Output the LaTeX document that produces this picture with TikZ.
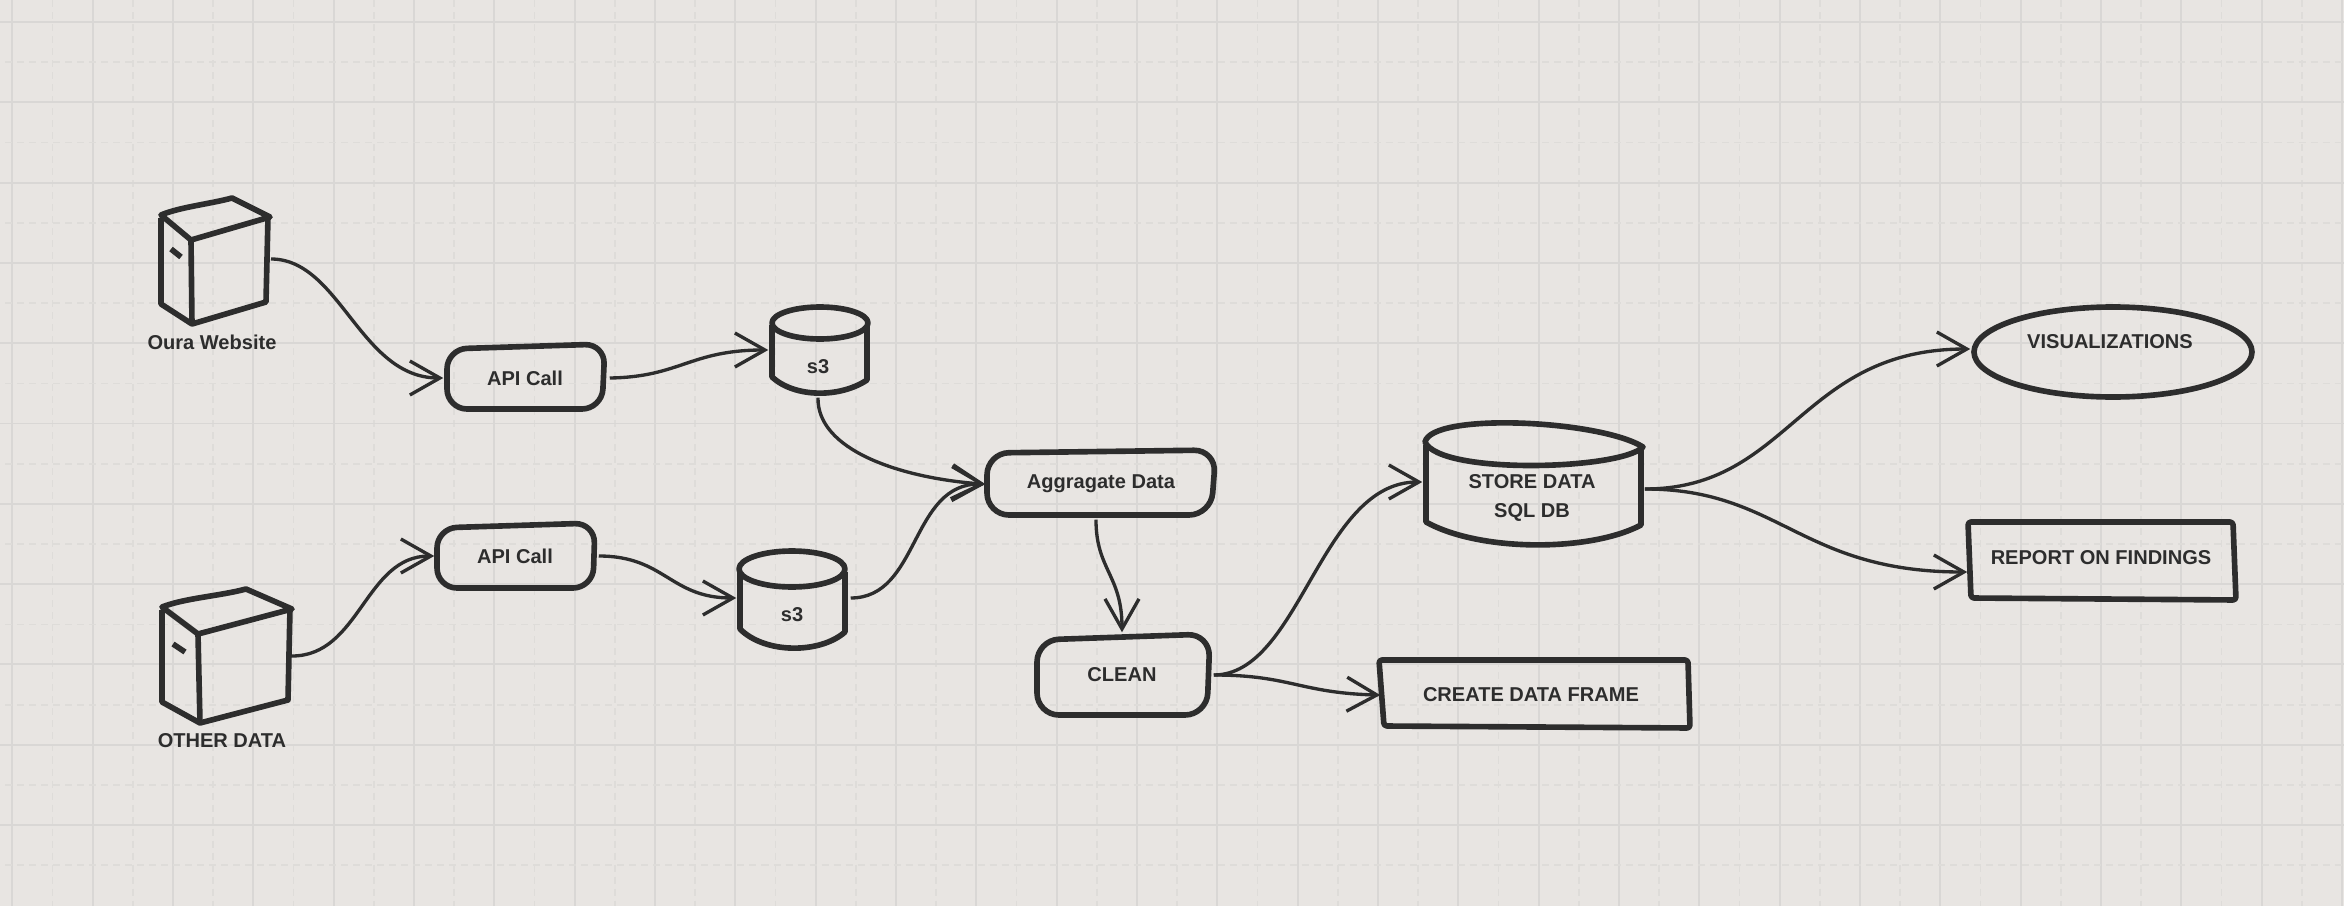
\documentclass[tikz,border=0pt]{standalone}
\usepackage{fontspec}
\setmainfont{Liberation Sans}
\usepackage{xcolor}
\usetikzlibrary{arrows.meta}
\definecolor{paper}{HTML}{E8E5E2}
\definecolor{gridline}{HTML}{D9D7D5}
\definecolor{griddot}{HTML}{DEDCD9}
\definecolor{ink}{HTML}{2D2D2D}
\tikzset{
    outline/.style={draw=ink, line width=1.6pt, line join=round},
    flow/.style={draw=ink, line width=0.95pt, shorten >=-.03cm, -{Straight Barb[length=.30cm, width=.34cm]}},
    nametext/.style={font=\fontsize{5.7}{8.5}\selectfont\bfseries, text=ink, inner sep=0pt, align=center},
    gridsolid/.style={draw=gridline, line width=0.55pt},
    griddash/.style={draw=griddot, line width=0.5pt, dash pattern=on .07cm off .05cm}
}

\begin{document}
\begin{tikzpicture}[x=0.01cm, y=-0.01cm]
        \useasboundingbox (0,0) rectangle (2344,906);
        \fill[paper] (0,0) rectangle (2344,906);

        % Grid
        \foreach \k in {0,...,29} {
            \draw[griddash] (52.5+80.33*\k, 0) -- (52.5+80.33*\k, 906);
            \draw[gridsolid] (12.3+80.33*\k, 0) -- (12.3+80.33*\k, 906);
        }
        \foreach \k in {0,...,10} {
            \draw[griddash] (5, 62.3+80.3*\k) -- (2344, 62.3+80.3*\k);
            \draw[gridsolid] (0, 22+80.3*\k) -- (2344, 22+80.3*\k);
        }

        % Oura server
        \draw[outline] (161,215) .. controls (180,207) and (210,204) .. (232,198) -- (270,217) -- (191,240) -- cycle;
        \draw[outline] (161,218) -- (161,304) -- (192,324) -- (266,302) -- (268,217);
        \draw[outline] (191,240) -- (192,324);
        \draw[outline] (171,249) -- (181,257);
        \node[nametext] (webA) at (212,342) {Oura Website};
        \coordinate (webAout) at (271,259);

        % Other server
        \draw[outline] (162,607) .. controls (185,598) and (220,596) .. (246,589) -- (292,609) -- (198,634) -- cycle;
        \draw[outline] (162,610) -- (162,702) -- (200,723) -- (288,700) -- (290,609);
        \draw[outline] (198,634) -- (200,723);
        \draw[outline] (173,644) -- (185,652);
        \node[nametext] (webB) at (222,741) {OTHER DATA};
        \coordinate (webBout) at (292,656);

        % API boxes
        \draw[outline, rounded corners=.2cm] (447,349) -- (605,344) -- (602,409) -- (447,409) -- cycle;
        \node[nametext, minimum width=1.68cm, minimum height=.6cm] (apiA) at (525,378) {API Call};
        \draw[outline, rounded corners=.2cm] (437,528) -- (595,523) -- (593,588) -- (437,588) -- cycle;
        \node[nametext, minimum width=1.66cm, minimum height=.6cm] (apiB) at (515,556) {API Call};

        % s3 buckets
        \draw[outline] (820,323) ellipse [x radius=48, y radius=16];
        \draw[outline] (772,325) -- (772,377) .. controls (795,398) and (840,398) .. (867,380) -- (867,325);
        \node[nametext, minimum width=1.04cm, minimum height=.6cm] (bucketA) at (818,367) {s3};
        \draw[outline] (792,569) ellipse [x radius=53, y radius=18];
        \draw[outline] (740,572) -- (740,629) .. controls (765,654) and (820,654) .. (845,632) -- (845,572);
        \node[nametext, minimum width=1.16cm, minimum height=.6cm] (bucketB) at (792,615) {s3};

        % Aggregate and clean
        \draw[outline, rounded corners=.22cm] (987,453) -- (1216,450) -- (1211,515) -- (987,515) -- cycle;
        \node[nametext, minimum width=2.36cm, minimum height=.7cm] (aggregate) at (1101,484) {Aggragate Data};
        \draw[outline, rounded corners=.22cm] (1037,640) -- (1210,634) -- (1207,715) -- (1037,715) -- cycle;
        \node[nametext, minimum width=1.82cm, minimum height=.9cm] (clean) at (1122,675) {CLEAN};

        % Store
        \draw[outline] (1425,442) .. controls (1432,412) and (1600,420) .. (1643,447) .. controls (1620,470) and (1440,475) .. (1425,442) -- cycle;
        \draw[outline] (1426,445) -- (1426,522) .. controls (1480,552) and (1590,552) .. (1641,525) -- (1641,447);
        \node[nametext, minimum width=2.24cm] (store) at (1532,498) {STORE DATA\\SQL DB};

        % Outputs
        \draw[outline, rounded corners=.03cm] (1379,660) -- (1688,660) -- (1690,728) -- (1384,726) -- cycle;
        \node[nametext, minimum width=3.06cm] (frame) at (1531,695) {CREATE DATA FRAME};
        \draw[outline] (2113,352) ellipse [x radius=139, y radius=45];
        \node[nametext, minimum width=2.84cm] (visual) at (2110,342) {VISUALIZATIONS};
        \draw[outline, rounded corners=.03cm] (1968,522) -- (2233,522) -- (2236,600) -- (1971,598) -- cycle;
        \node[nametext, minimum width=2.72cm] (report) at (2101,558) {REPORT ON FINDINGS};

        % Connectors
        \draw[flow] (webAout) .. controls (340,259) and (360,378) .. (apiA.west);
        \draw[flow] (apiA.east) .. controls (680,377) and (690,350) .. ([yshift=.17cm]bucketA.west);
        \draw[flow] (bucketA.south) .. controls (817,450) and (900,478) .. (aggregate.west);
        \draw[flow] (webBout) .. controls (360,656) and (365,556) .. (apiB.west);
        \draw[flow] (apiB.east) .. controls (665,556) and (670,598) .. ([yshift=.17cm]bucketB.west);
        \draw[flow] ([yshift=.17cm]bucketB.east) .. controls (920,598) and (910,483) .. (aggregate.west);
        \draw[flow] ([xshift=-.05cm]aggregate.south) .. controls (1096,570) and (1122,575) .. (clean.north);
        \draw[flow] (clean.east) .. controls (1300,675) and (1320,482) .. ([yshift=.16cm]store.west);
        \draw[flow] (clean.east) .. controls (1290,675) and (1300,693) .. (frame.west);
        \draw[flow] ([yshift=.09cm]store.east) .. controls (1790,489) and (1800,349) .. ([yshift=-.07cm]visual.west);
        \draw[flow] ([yshift=.09cm]store.east) .. controls (1780,489) and (1800,572) .. ([yshift=-.14cm]report.west);
    \end{tikzpicture}
\end{document}
